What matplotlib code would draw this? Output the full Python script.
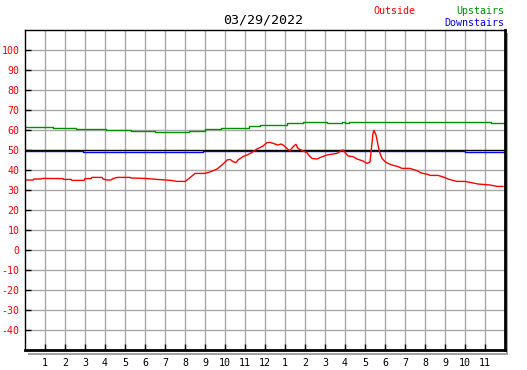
import matplotlib
matplotlib.use("Agg")
import matplotlib.pyplot as plt

title = "03/29/2022"
x_labels = ["1", "2", "3", "4", "5", "6", "7", "8", "9", "10", "11", "12",
            "1", "2", "3", "4", "5", "6", "7", "8", "9", "10", "11"]
y_ticks = [100, 90, 80, 70, 60, 50, 40, 30, 20, 10, 0, -10, -20, -30, -40]

outside_h = [0.0, 0.4, 0.45, 0.8, 0.85, 1.9, 1.95, 2.3, 2.35, 2.95, 3.0, 3.3, 3.35, 3.85,
             3.9, 4.1, 4.3, 4.4, 4.6, 5.25, 5.3, 6.0, 6.6, 7.3, 7.6, 8.0, 8.1, 8.35, 8.5,
             9.0, 9.3, 9.6, 9.85, 10.1, 10.25, 10.4, 10.55, 10.65, 10.9, 11.15, 11.35,
             11.6, 11.9, 12.1, 12.25, 12.5, 12.65, 12.8, 12.9, 13.0, 13.15, 13.25, 13.35,
             13.5, 13.55, 13.65, 13.9, 14.1, 14.2, 14.35, 14.6, 14.75, 15.0, 15.25, 15.6,
             15.8, 15.9, 16.0, 16.15, 16.4, 16.6, 16.9, 17.1, 17.25, 17.4, 17.45, 17.55,
             17.65, 17.75, 17.85, 18.0, 18.15, 18.35, 18.65, 18.85, 19.25, 19.4, 19.6,
             19.75, 19.9, 20.15, 20.25, 20.65, 20.85, 21.0, 21.15, 21.4, 21.6, 22.0,
             22.15, 22.4, 22.65, 23.25, 23.6, 23.9]
outside_v = [35.0, 35.0, 35.5, 35.5, 35.8, 35.7, 35.3, 35.3, 34.8, 34.8, 35.7, 35.7, 36.3, 36.3,
             35.5, 35.0, 35.0, 35.7, 36.3, 36.3, 36.0, 35.8, 35.3, 34.8, 34.3, 34.3, 35.0, 37.0, 38.3,
             38.3, 39.2, 40.5, 42.5, 45.0, 45.3, 44.2, 43.7, 45.0, 46.7, 47.7, 48.8,
             50.5, 52.0, 53.7, 53.8, 53.0, 52.5, 53.0, 52.5, 51.7, 50.3, 49.7, 51.0,
             52.5, 52.8, 50.8, 49.5, 48.7, 47.2, 45.8, 45.5, 46.2, 47.2, 47.8, 48.3,
             49.7, 50.0, 48.8, 47.0, 46.7, 45.5, 44.5, 43.3, 44.0, 58.3, 59.8, 57.5,
             52.5, 48.3, 45.8, 44.2, 43.3, 42.5, 41.7, 40.8, 40.8, 40.3, 39.7,
             38.8, 38.3, 37.8, 37.3, 37.3, 36.7, 36.2, 35.5, 34.8, 34.3, 34.3,
             34.0, 33.5, 33.0, 32.5, 31.8, 31.8]

upstairs_h = [0.0, 1.4, 2.55, 4.05, 5.3, 6.5, 8.2, 9.0, 9.8, 11.2, 11.75, 13.1, 13.9,
              15.1, 15.85, 16.0, 16.2, 23.3, 23.95]
upstairs_v = [61.7, 60.8, 60.3, 59.8, 59.3, 58.8, 59.5, 60.3, 61.0, 62.0, 62.5, 63.3, 63.8,
              63.3, 63.8, 63.3, 63.8, 63.3, 63.3]

downstairs_h = [0.0, 2.9, 8.9, 9.05, 22.0, 23.95]
downstairs_v = [49.35, 48.9, 49.35, 49.35, 48.9, 48.9]

reference_level = 50

W, H = 527, 370
fig = plt.figure(figsize=(W / 100, H / 100), dpi=100)
L, R, T, B = 25, 505, 30, 350
ax = fig.add_axes([L / W, (H - B) / H, (R - L) / W, (B - T) / H])
ax.set_xlim(0, 24)
ax.set_ylim(-50, 110)

grid_c = "#a8a8a8"
for h in range(1, 24):
    ax.axvline(h, color=grid_c, lw=1.0, zorder=1)
for v in range(-40, 110, 10):
    if v != reference_level:
        ax.axhline(v, color=grid_c, lw=1.0, zorder=1)

ax.plot(downstairs_h, downstairs_v, color="#0000ff", lw=1.0, drawstyle="steps-post", zorder=3)
ax.axhline(reference_level, color="black", lw=1.0, zorder=4)
ax.plot(upstairs_h, upstairs_v, color="#009000", lw=1.0, drawstyle="steps-post", zorder=3)
ax.plot(outside_h, outside_v, color="#ff0000", lw=1.0, zorder=5)

mono = "DejaVu Sans Mono"
ax.set_yticks(y_ticks)
ax.set_yticklabels([str(v) for v in y_ticks], color="#ff0000",
                   fontsize=7.2, family=mono)
ax.set_xticks(range(1, 24))
ax.set_xticklabels(x_labels, fontsize=7.2, family=mono, color="black")
ax.tick_params(axis="both", direction="in", length=4, width=1, color="black")
ax.tick_params(axis="y", pad=4)
ax.tick_params(axis="x", pad=6)

for s in ["left", "top"]:
    ax.spines[s].set_linewidth(1.0)
for s in ["right", "bottom"]:
    ax.spines[s].set_linewidth(2.0)
for s in ax.spines.values():
    s.set_color("black")
    s.set_zorder(6)

def px(xp, yp):
    return ((xp - L) / (R - L), (B - yp) / (B - T))

sx0, sy0 = px(507.5, 33)
sx1, sy1 = px(507.5, 354)
ax.plot([sx0, sx1], [sy0, sy1], transform=ax.transAxes, color="#a0a0a0", lw=1.4,
        clip_on=False, solid_capstyle="butt")
bx0, by0 = px(28, 353.5)
bx1, by1 = px(508.3, 353.5)
ax.plot([bx0, bx1], [by0, by1], transform=ax.transAxes, color="#a0a0a0", lw=1.4,
        clip_on=False, solid_capstyle="butt")

fig.text(263 / W, 1 - 20 / H, title, ha="center", va="center", fontsize=9.6,
         family=mono, color="black")
fig.text(373 / W, 1 - 11 / H, "Outside", ha="left", va="center", fontsize=7.2,
         family=mono, color="#ff0000")
fig.text(504 / W, 1 - 11 / H, "Upstairs", ha="right", va="center", fontsize=7.2,
         family=mono, color="#009000")
fig.text(504 / W, 1 - 23 / H, "Downstairs", ha="right", va="center", fontsize=7.2,
         family=mono, color="#0000ff")

fig.savefig("out.png", dpi=100)
